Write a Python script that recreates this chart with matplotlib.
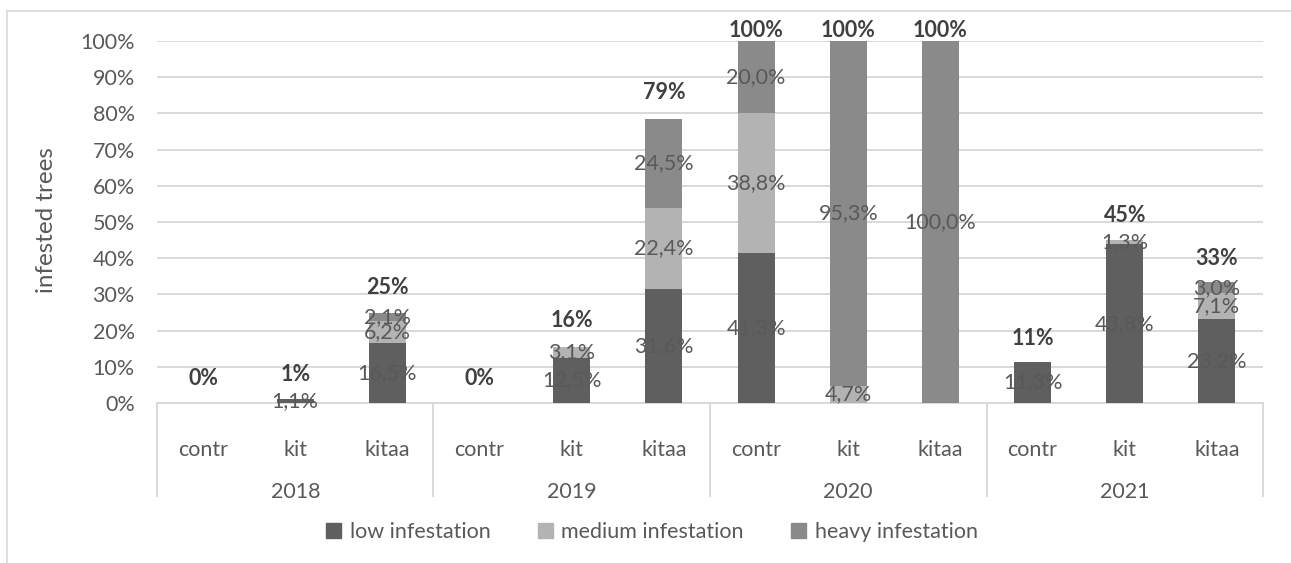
import matplotlib
matplotlib.use('Agg')
import matplotlib.pyplot as plt
from matplotlib.lines import Line2D
from matplotlib.patches import Patch
from matplotlib.ticker import FuncFormatter
import numpy as np

plt.rcParams['font.family'] = ['Lato', 'DejaVu Sans']

years = ['2018', '2019', '2020', '2021']
treatments = ['contr', 'kit', 'kitaa']
series_names = ['low infestation', 'medium infestation', 'heavy infestation']
low = [0.0, 1.1, 16.5, 0.0, 12.5, 31.6, 41.3, 0.0, 0.0, 11.3, 43.8, 23.2]
medium = [0.0, 0.0, 6.2, 0.0, 3.1, 22.4, 38.8, 4.7, 0.0, 0.0, 1.3, 7.1]
heavy = [0.0, 0.0, 2.1, 0.0, 0.0, 24.5, 20.0, 95.3, 100.0, 0.0, 0.0, 3.0]
totals = [0, 1, 25, 0, 16, 79, 100, 100, 100, 11, 45, 33]

colors = ['#5f5f5f', '#b3b3b3', '#8a8a8a']
text_color = '#595959'
grid_color = '#d9d9d9'
FS = 15.5

W, H = 1291, 563
fig = plt.figure(figsize=(W / 100, H / 100), dpi=100)
ax = fig.add_axes([157 / W, 1 - 403 / H, (1263 - 157) / W, (403 - 41) / H])

x = np.arange(len(low))
bottom = np.zeros(len(low))
for vals, color, name in zip([low, medium, heavy], colors, series_names):
    v = np.array(vals) / 100.0
    bars = ax.bar(x, v, width=0.4, bottom=bottom, color=color, zorder=3, label=name)
    labels = [f'{val:.1f}%'.replace('.', ',') if val > 0 else '' for val in vals]
    ax.bar_label(bars, labels=labels, label_type='center', fontsize=FS, color=text_color, zorder=4)
    bottom = bottom + v

for xi, t in zip(x, totals):
    ax.text(xi, min(t / 100 + 0.069, 1.03), f'{t}%', ha='center', va='center',
            fontsize=FS, fontweight='bold', color='#404040', clip_on=False, zorder=5)

ax.set_xlim(-0.5, len(low) - 0.5)
ax.set_ylim(0, 1)
ax.set_yticks(np.arange(0, 1.001, 0.1))
ax.yaxis.set_major_formatter(FuncFormatter(lambda v, p: f'{v * 100:.0f}%'))
ax.yaxis.grid(True, color=grid_color, linewidth=1.4, zorder=0)
ax.set_axisbelow(True)
ax.tick_params(axis='y', length=0, pad=16, labelsize=FS, labelcolor=text_color)
ax.set_xticks([])
for s in ['top', 'right', 'left']:
    ax.spines[s].set_visible(False)
ax.spines['bottom'].set_color(grid_color)
ax.spines['bottom'].set_linewidth(1.4)

xt = ax.get_xaxis_transform()
for i, xi in enumerate(x):
    ax.text(xi, -0.13, treatments[i % 3], transform=xt, ha='center', va='center',
            fontsize=FS, color=text_color)
for j, yr in enumerate(years):
    ax.text(3 * j + 1, -0.246, yr, transform=xt, ha='center', va='center',
            fontsize=FS, color=text_color)
for k in range(len(years) + 1):
    ax.add_line(Line2D([3 * k - 0.5, 3 * k - 0.5], [0, -0.257], transform=xt,
                       color=grid_color, linewidth=1.4, clip_on=False))

ax.set_ylabel('infested trees', fontsize=17.5, color=text_color)
ax.yaxis.set_label_coords((57 - 157) / (1263 - 157), (403 - 220) / (403 - 41))

fig.add_artist(Line2D([7 / W, 1], [1 - 11 / H, 1 - 11 / H], transform=fig.transFigure,
                      color=grid_color, linewidth=1.2))
fig.add_artist(Line2D([7 / W, 7 / W], [0, 1 - 11 / H], transform=fig.transFigure,
                      color=grid_color, linewidth=1.2))

handles = [Patch(color=c, label=n) for c, n in zip(colors, series_names)]
fig.legend(handles=handles, loc='center', bbox_to_anchor=(0.505, 1 - 532 / H), ncol=3,
           frameon=False, handlelength=0.7, handleheight=0.7, handletextpad=0.4,
           columnspacing=2.2, fontsize=FS, labelcolor=text_color)

fig.savefig('out.png', dpi=100)
